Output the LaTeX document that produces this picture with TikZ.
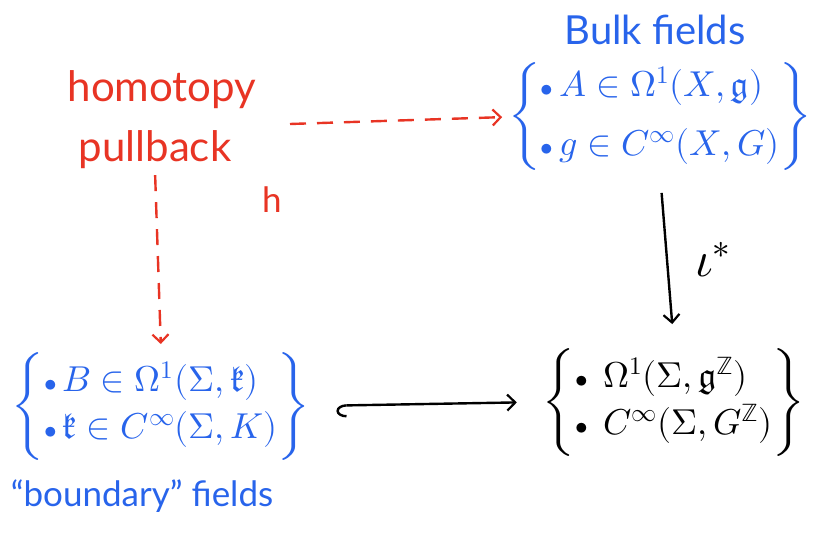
\documentclass[tikz,border=0pt]{standalone}
\usepackage{amsmath}
\usepackage{fontspec}
\usepackage{unicode-math}
\setmainfont{Lato}
\setmathfont{Latin Modern Math}
\usetikzlibrary{arrows.meta}
\definecolor{inkblue}{RGB}{40,100,235}
\definecolor{inkred}{RGB}{232,52,36}
\newcommand{\pt}{{\scriptstyle\bullet}\,}
\newcommand{\topstrut}{\rule{0pt}{32pt}}
\newcommand{\botstrut}{\rule[-14pt]{0pt}{14pt}}
\tikzset{
  every node/.style={inner sep=0pt, outer sep=2pt},
  handtext/.style={font=\fontsize{35}{40}\selectfont},
  bigtext/.style={font=\fontsize{42}{48}\selectfont},
  labeltext/.style={font=\fontsize{40}{44}\selectfont},
  setbox/.style={font=\fontsize{36}{43}\selectfont},
  starlabel/.style={font=\fontsize{50}{56}\selectfont},
  redflow/.style={inkred, line width=2.4pt, dash pattern=on 16pt off 11pt, -{Straight Barb[length=8pt,width=16pt,line width=2.2pt]}},
  blackflow/.style={black, line width=2.4pt, -{Straight Barb[length=8pt,width=16pt,line width=2.2pt]}},
}
\begin{document}
\begin{tikzpicture}[x=1pt,y=-1pt]
\useasboundingbox (0,0) rectangle (815,535);

% labels in red
\node[bigtext, inkred] (homotopy) at (162,90) {homotopy};
\node[bigtext, inkred] (pullback) at (155,150) {pullback};
\node[handtext, inkred] (h) at (272,200) {h};
\coordinate (hstart) at (290,124);

% bulk fields
\node[labeltext, inkblue] (bulk) at (655,30) {Bulk fields};
\node[setbox, inkblue] (tr) at (660,117)
  {$\left\{\begin{array}{@{}l@{}}\topstrut\pt A\in\Omega^1(X,\mathfrak{g})\\[16pt] \pt g\in C^\infty(X,G)\botstrut\end{array}\right\}$};

% boundary fields
\node[setbox, inkblue] (bl) at (161,406)
  {$\left\{\begin{array}{@{}l@{}}\topstrut\pt B\in\Omega^1(\Sigma,\mathfrak{k})\\[4pt] \pt \mathfrak{k}\in C^\infty(\Sigma,K)\botstrut\end{array}\right\}$};
\node[handtext, inkblue] (bdy) at (142,496) {“boundary” fields};

% restricted fields
\node[setbox, black] (br) at (674,402)
  {$\left\{\begin{array}{@{}l@{}}\topstrut\pt\ \Omega^1(\Sigma,\mathfrak{g}^{\mathbb{Z}})\\[4pt] \pt\ C^\infty(\Sigma,G^{\mathbb{Z}})\botstrut\end{array}\right\}$};

% connectors
\draw[redflow, shorten >=4pt] (hstart) -- (tr.west);
\draw[redflow, shorten <=4pt, shorten >=6pt] (pullback.south) -- (bl.north);
\draw[blackflow, shorten <=20pt, shorten >=22pt] (tr.south) -- node[right=26pt, starlabel] (iota) {$\iota^*$} (br.north);
\draw[black, line width=2.4pt, shorten <=24pt, shorten >=24pt,
  {Hooks[left,length=10pt,width=24pt]}-{Straight Barb[length=8pt,width=16pt,line width=2.2pt]}] (bl.east) -- (br.west);
\end{tikzpicture}
\end{document}
